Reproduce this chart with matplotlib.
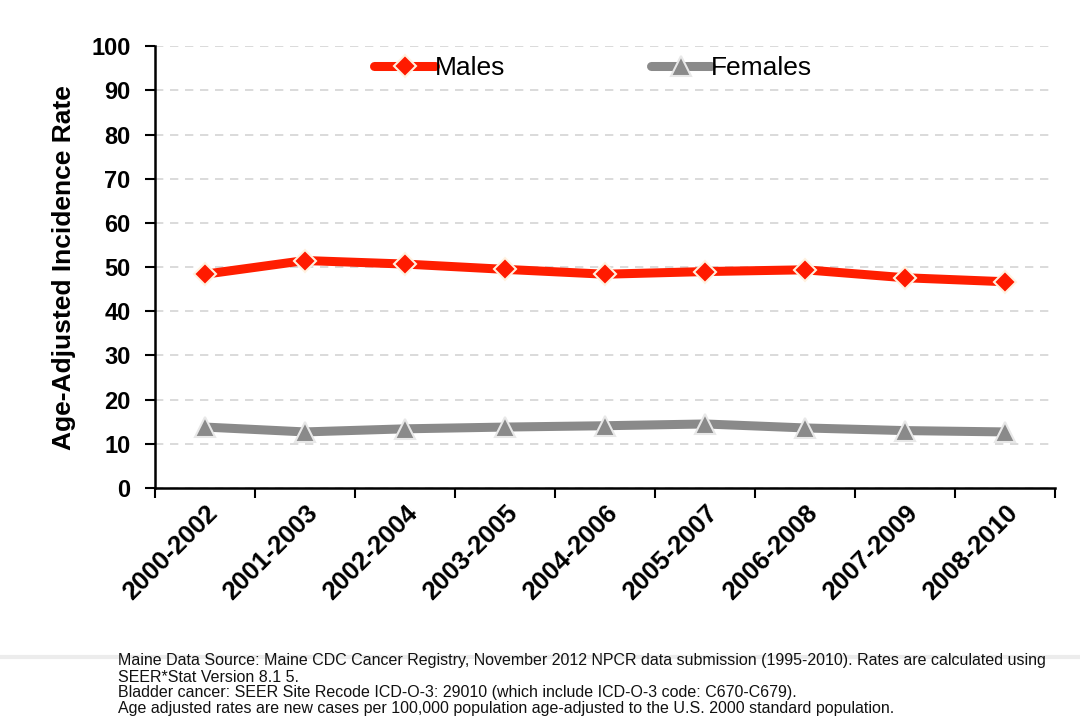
import matplotlib.pyplot as plt
import numpy as np

plt.rcParams['font.family'] = ['Liberation Sans', 'DejaVu Sans']

periods = ["2000-2002", "2001-2003", "2002-2004", "2003-2005", "2004-2006",
           "2005-2007", "2006-2008", "2007-2009", "2008-2010"]
males = [48.4, 51.5, 50.7, 49.5, 48.4, 49.0, 49.4, 47.6, 46.7]
females = [13.8, 12.7, 13.4, 13.8, 14.1, 14.5, 13.6, 13.0, 12.7]
yticks = list(range(0, 101, 10))

notes = [
    "Maine Data Source: Maine CDC Cancer Registry, November 2012 NPCR data submission (1995-2010). Rates are calculated using",
    "SEER*Stat Version 8.1 5.",
    "Bladder cancer: SEER Site Recode ICD-O-3: 29010 (which include ICD-O-3 code: C670-C679).",
    "Age adjusted rates are new cases per 100,000 population age-adjusted to the U.S. 2000 standard population.",
]

fig = plt.figure(figsize=(10.8, 7.23), dpi=100)
ax = fig.add_axes([0.1435, 0.325, 0.8334, 0.611])

x = np.arange(len(periods))
ax.plot(x, males, color="#ff1e00", lw=6.5, marker="D", ms=11,
        mfc="#ff1a00", mec="#fff2e0", mew=1.5, label="Males", zorder=3,
        solid_capstyle="round")
ax.plot(x, females, color="#8a8a8a", lw=6.5, marker="^", ms=14,
        mfc="#8a8a8a", mec="#e8e8e8", mew=1.5, label="Females", zorder=3,
        solid_capstyle="round")

ax.set_xlim(-0.5, len(periods) - 0.5)
ax.set_ylim(0, 100)
ax.set_yticks(yticks)
ax.set_yticklabels([str(v) for v in yticks], fontsize=17, fontweight="bold")

# category ticks sit between the points, labels under the points
ax.set_xticks(np.arange(-0.5, len(periods), 1.0))
ax.set_xticklabels([])
ax.set_xticks(x, minor=True)
ax.set_xticklabels(periods, minor=True, rotation=45, ha="right",
                   rotation_mode="anchor", fontsize=18.5, fontweight="bold")
ax.tick_params(axis="x", which="minor", length=0, pad=9)
ax.tick_params(axis="x", which="major", direction="out", length=7, width=1.5)
ax.tick_params(axis="y", direction="out", length=7, width=1.5, pad=10.5)

ax.grid(axis="y", color="#d4d4d4", linestyle=(0, (5, 4)), lw=1.2, zorder=0)
ax.set_axisbelow(True)
for side in ("top", "right"):
    ax.spines[side].set_visible(False)
for side in ("left", "bottom"):
    ax.spines[side].set_linewidth(1.8)

ax.set_ylabel("Age-Adjusted Incidence Rate", fontsize=19, fontweight="bold",
              labelpad=11)

ax.legend(loc="center", bbox_to_anchor=(0.487, 0.95), ncol=2, frameon=False,
          fontsize=19, handlelength=2.3, handletextpad=0.0, columnspacing=5.5)

# faint rule behind the notes
fig.add_artist(plt.Line2D([0, 1], [1 - 657 / 723] * 2, color="#ececec", lw=3))

for i, line in enumerate(notes):
    fig.text(0.109, 1 - (661 + 16 * i) / 723, line, fontsize=11.5,
             va="center", ha="left", color="#111111")

fig.savefig("out.png", dpi=100)
